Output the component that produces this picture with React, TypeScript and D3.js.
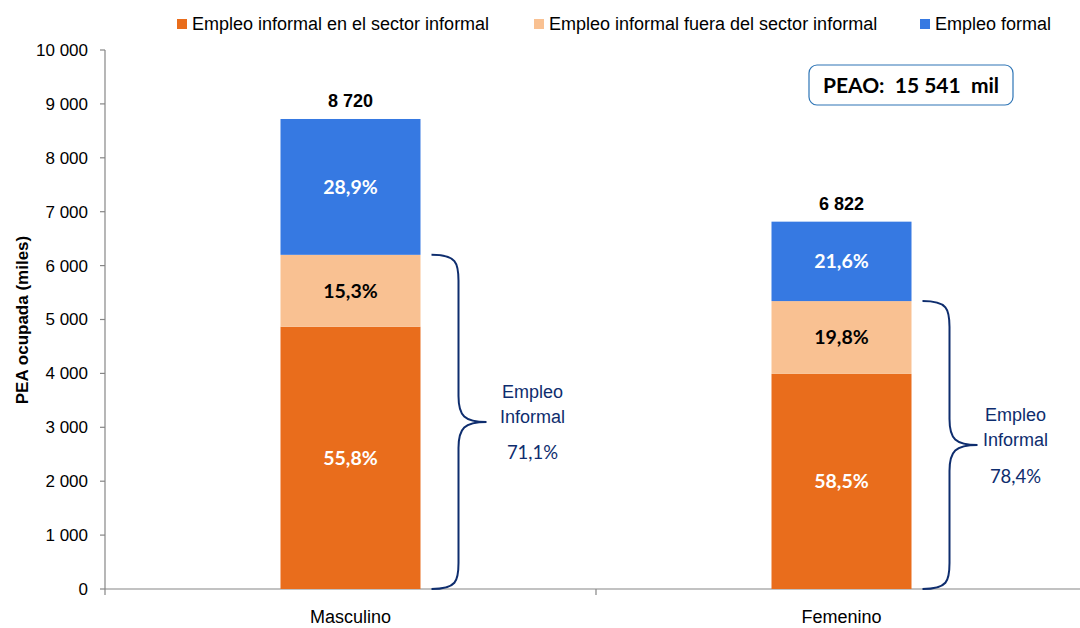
import React, { useEffect, useRef } from "react";
import * as d3 from "d3";

const categories = ["Masculino", "Femenino"];
const totals = [8720, 6822];
const seriesNames = [
  "Empleo informal en el sector informal",
  "Empleo informal fuera del sector informal",
  "Empleo formal",
];
const shareInformalSector = [55.8, 58.5];
const shareInformalOutside = [15.3, 19.8];
const shareFormal = [28.9, 21.6];
const informalTotals = [71.1, 78.4];
const yTicks = [0, 1000, 2000, 3000, 4000, 5000, 6000, 7000, 8000, 9000, 10000];
const peaoLabel = "PEAO:  15 541  mil";
const yTitle = "PEA ocupada (miles)";

const colors = ["#E96D1C", "#F9C192", "#3679E2"];
const navy = "#0E2D6E";
const narrow = "'Liberation Sans Narrow', 'Arial Narrow', 'Liberation Sans', sans-serif";
const calib = "Lato, 'Open Sans', sans-serif";

const fmtThousands = (v: number) => {
  const s = String(Math.round(v));
  return s.replace(/\B(?=(\d{3})+(?!\d))/g, " ");
};
const fmtPct = (v: number) => v.toFixed(1).replace(".", ",") + "%";

export default function App() {
  const ref = useRef<SVGSVGElement | null>(null);
  useEffect(() => {
    const svg = d3.select(ref.current);
    svg.selectAll("*").remove();
    const W = 1080;
    const left = 105, top = 50, bottom = 589;
    const x = d3.scaleBand().domain(categories).range([left, left + 2 * 491]).paddingInner(0).paddingOuter(0);
    const y = d3.scaleLinear().domain([0, 10000]).range([bottom, top]);
    const barW = 140;

    const g = svg.append("g");
    g.append("line").attr("x1", left).attr("x2", left).attr("y1", top).attr("y2", bottom).attr("stroke", "#868686").attr("stroke-width", 1.2);
    yTicks.forEach((t) => {
      g.append("line").attr("x1", left - 5).attr("x2", left).attr("y1", y(t)).attr("y2", y(t)).attr("stroke", "#868686").attr("stroke-width", 1.2);
      g.append("text").attr("x", 88).attr("y", y(t)).attr("dy", "0.35em").attr("text-anchor", "end")
        .attr("font-family", narrow).attr("font-size", 17).attr("fill", "#000").text(fmtThousands(t));
    });
    g.append("line").attr("x1", left).attr("x2", W).attr("y1", bottom).attr("y2", bottom).attr("stroke", "#868686").attr("stroke-width", 1.2);
    [left, left + 491, left + 982].forEach((bx) => {
      g.append("line").attr("x1", bx).attr("x2", bx).attr("y1", bottom).attr("y2", bottom + 6).attr("stroke", "#868686").attr("stroke-width", 1.2);
    });
    categories.forEach((c) => {
      g.append("text").attr("x", x(c)! + x.bandwidth() / 2).attr("y", 617).attr("dy", "0.35em").attr("text-anchor", "middle")
        .attr("font-family", narrow).attr("font-size", 18).attr("fill", "#000").text(c);
    });
    g.append("text").attr("transform", `translate(22,${320}) rotate(-90)`).attr("text-anchor", "middle").attr("dy", "0.35em")
      .attr("font-family", narrow).attr("font-weight", "bold").attr("font-size", 17).attr("fill", "#000").text(yTitle);

    const shares = [shareInformalSector, shareInformalOutside, shareFormal];
    categories.forEach((c, i) => {
      const cx = x(c)! + x.bandwidth() / 2;
      let acc = 0;
      shares.forEach((s, k) => {
        const v = (totals[i] * s[i]) / 100;
        const y0 = y(acc), y1 = y(acc + v);
        g.append("rect").attr("x", cx - barW / 2).attr("y", y1).attr("width", barW).attr("height", y0 - y1).attr("fill", colors[k]);
        g.append("text").attr("x", cx).attr("y", (y0 + y1) / 2).attr("dy", "0.35em").attr("text-anchor", "middle")
          .attr("font-family", calib).attr("font-weight", "bold").attr("font-size", 19.5)
          .attr("fill", k === 1 ? "#000" : "#fff").text(fmtPct(s[i]));
        acc += v;
      });
      g.append("text").attr("x", cx).attr("y", y(totals[i]) - 18).attr("dy", "0.35em").attr("text-anchor", "middle")
        .attr("font-family", narrow).attr("font-weight", "bold").attr("font-size", 18).attr("fill", "#000").text(fmtThousands(totals[i]));

      const informalVal = (totals[i] * (shareInformalSector[i] + shareInformalOutside[i])) / 100;
      const yT = y(informalVal), yB = y(0), yM = (yT + yB) / 2;
      const x0 = cx + barW / 2 + 11, xv = x0 + 27, xt = xv + 28;
      const r = 26;
      const path = `M${x0},${yT} C${xv - 2},${yT} ${xv},${yT + 8} ${xv},${yT + r} L${xv},${yM - r} C${xv},${yM - 6} ${xv + 6},${yM} ${xt},${yM} C${xv + 6},${yM} ${xv},${yM + 6} ${xv},${yM + r} L${xv},${yB - r} C${xv},${yB - 8} ${xv - 2},${yB} ${x0},${yB}`;
      g.append("path").attr("d", path).attr("fill", "none").attr("stroke", navy).attr("stroke-width", 2);
      const tx = i === 0 ? xt + 46 : xt + 38;
      g.append("text").attr("x", tx).attr("y", yM - 30).attr("dy", "0.35em").attr("text-anchor", "middle")
        .attr("font-family", narrow).attr("font-size", 18).attr("fill", navy).text("Empleo");
      g.append("text").attr("x", tx).attr("y", yM - 5).attr("dy", "0.35em").attr("text-anchor", "middle")
        .attr("font-family", narrow).attr("font-size", 18).attr("fill", navy).text("Informal");
      g.append("text").attr("x", tx).attr("y", yM + 31).attr("dy", "0.35em").attr("text-anchor", "middle")
        .attr("font-family", calib).attr("font-size", 18.5).attr("fill", navy).text(fmtPct(informalTotals[i]));
    });

    const legX = [177, 534, 920];
    seriesNames.forEach((n, k) => {
      g.append("rect").attr("x", legX[k]).attr("y", 19).attr("width", 10).attr("height", 10).attr("fill", colors[k]);
      g.append("text").attr("x", legX[k] + 15).attr("y", 24).attr("dy", "0.35em")
        .attr("font-family", narrow).attr("font-size", 18).attr("fill", "#000").text(n);
    });

    g.append("rect").attr("x", 809).attr("y", 65).attr("width", 204).attr("height", 40).attr("rx", 8)
      .attr("fill", "#fff").attr("stroke", "#2E75B6").attr("stroke-width", 1.2);
    g.append("text").attr("x", 911).attr("y", 86).attr("dy", "0.35em").attr("text-anchor", "middle")
      .attr("font-family", calib).attr("font-weight", "bold").attr("font-size", 21).attr("fill", "#000")
      .style("white-space", "pre").attr("xml:space", "preserve").text(peaoLabel);
  }, []);
  return (
    <svg ref={ref} width={1080} height={628} style={{ position: "absolute", left: 0, top: 0, background: "#fff" }} />
  );
}
